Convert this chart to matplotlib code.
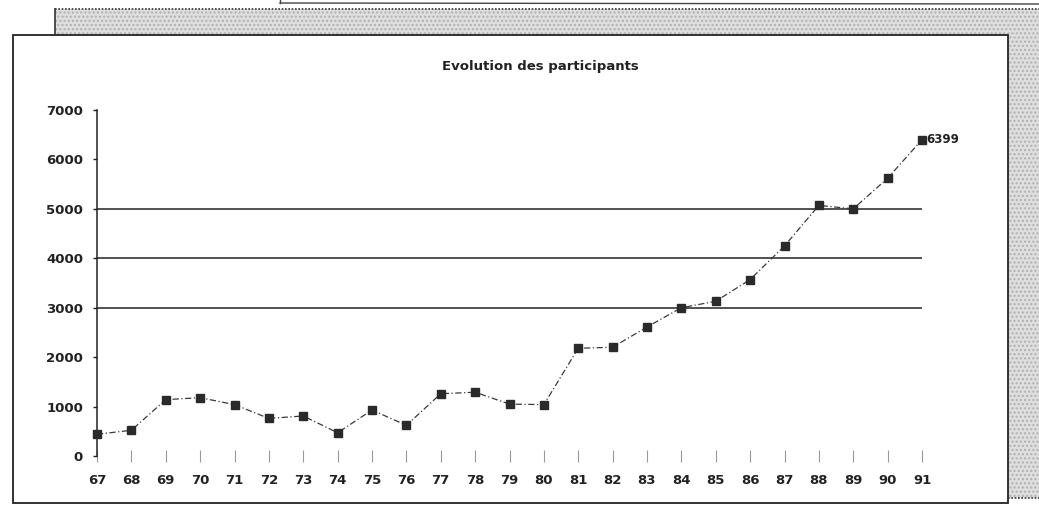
import matplotlib.pyplot as plt
from matplotlib.patches import Rectangle
from matplotlib.lines import Line2D

# données
annees = [67, 68, 69, 70, 71, 72, 73, 74, 75, 76, 77, 78, 79,
          80, 81, 82, 83, 84, 85, 86, 87, 88, 89, 90, 91]
participants = [440, 520, 1140, 1180, 1040, 760, 810, 470, 930, 620, 1260, 1290, 1050,
                1040, 2180, 2200, 2610, 3000, 3130, 3570, 4250, 5070, 5000, 5620, 6399]
graduations_y = [0, 1000, 2000, 3000, 4000, 5000, 6000, 7000]
lignes_grille = [3000, 4000, 5000]

plt.rcParams['font.family'] = ['DejaVu Sans']

W, H = 1039, 513
fig = plt.figure(figsize=(W / 100, H / 100), dpi=100)
fig.patch.set_facecolor('white')


def px(x0, y0, x1, y1):
    # rectangle en pixels -> coordonnées figure
    return (x0 / W, 1 - y1 / H), (x1 - x0) / W, (y1 - y0) / H


# ombre grisée derrière le cadre
for x0, y0, x1, y1 in [(55, 9, 1039, 35), (1008, 9, 1039, 498)]:
    xy, w, h = px(x0, y0, x1, y1)
    fig.patches.append(Rectangle(xy, w, h, transform=fig.transFigure,
                                 facecolor='#dedede', edgecolor='#b0b0b0',
                                 hatch='....', lw=0, zorder=0))
fig.lines.append(Line2D([55 / W, 1039 / W], [1 - 9 / H, 1 - 9 / H],
                        transform=fig.transFigure, color='#333333',
                        lw=1.2, ls=(0, (1, 1))))
fig.lines.append(Line2D([55 / W, 55 / W], [1 - 9 / H, 1 - 35 / H],
                        transform=fig.transFigure, color='#333333', lw=1.2))
fig.lines.append(Line2D([1008 / W, 1039 / W], [1 - 498 / H, 1 - 498 / H],
                        transform=fig.transFigure, color='#333333',
                        lw=1.2, ls=(0, (1, 1))))
# bout de cadre en haut
fig.lines.append(Line2D([280 / W, 1039 / W], [1 - 3 / H, 1 - 4 / H],
                        transform=fig.transFigure, color='#444444', lw=1))
fig.lines.append(Line2D([280 / W, 280 / W], [1.0, 1 - 3 / H],
                        transform=fig.transFigure, color='#444444', lw=1))

# cadre blanc du graphique
xy, w, h = px(13, 35, 1008, 503)
fig.patches.append(Rectangle(xy, w, h, transform=fig.transFigure,
                             facecolor='white', edgecolor='#222222',
                             lw=1.3, zorder=1))

ax = fig.add_axes([97 / W, 1 - 456 / H, (922 - 97) / W, (456 - 110) / H])
ax.set_facecolor('none')
ax.set_zorder(2)

for g in lignes_grille:
    ax.axhline(g, color='#222222', lw=1.1, zorder=1)

ax.plot(annees, participants, color='#3a3a3a', lw=0.9, ls=(0, (5, 2, 1, 2)),
        marker='s', markersize=6, markerfacecolor='#2a2a2a',
        markeredgecolor='#2a2a2a', zorder=3, clip_on=False)

ax.annotate(f'{participants[-1]}', (annees[-1], participants[-1]),
            xytext=(3, 0), textcoords='offset points', ha='left', va='center',
            fontsize=8.5, fontweight='bold', color='#222222')

ax.set_xlim(67, 91)
ax.set_ylim(0, 7000)
ax.set_xticks(annees)
ax.set_xticklabels([str(a) for a in annees])
ax.set_yticks(graduations_y)
ax.set_yticklabels([str(v) for v in graduations_y])

for s in ['top', 'right', 'bottom']:
    ax.spines[s].set_visible(False)
ax.spines['left'].set_color('#222222')
ax.spines['left'].set_linewidth(1.1)

ax.tick_params(axis='x', direction='inout', length=8, width=0.8,
               color='#999999', pad=9, labelsize=9.5)
ax.tick_params(axis='y', direction='out', length=3, width=1,
               color='#222222', pad=7, labelsize=9.5)
for lab in ax.get_xticklabels() + ax.get_yticklabels():
    lab.set_fontweight('bold')
    lab.set_color('#222222')

fig.text(540 / W, 1 - 67 / H, 'Evolution des participants', ha='center',
         va='center', fontsize=9.5, fontweight='bold', color='#222222')

fig.savefig('out.png', dpi=100)
